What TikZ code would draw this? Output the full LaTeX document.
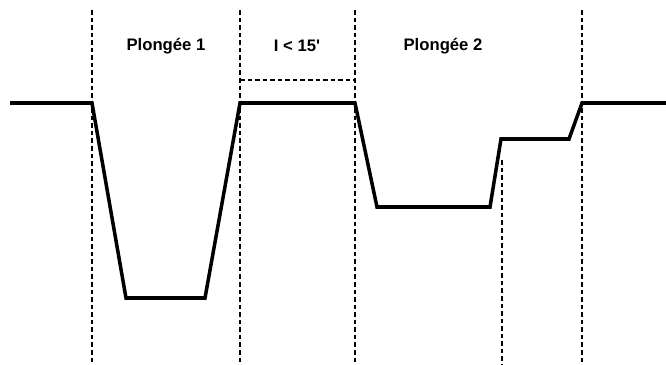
\documentclass[tikz,border=0pt]{standalone}
\usepackage{fontspec}
\newfontfamily\lblfont{Liberation Sans}
\usetikzlibrary{positioning}

\tikzset{
	profil/.style={line width=2pt, line join=miter},
	sep/.style={line width=0.75pt, dash pattern=on 2.6pt off 1.7pt},
	lbl/.style={font=\lblfont\fontsize{9.5}{11}\selectfont\bfseries}
}

\begin{document}
\begin{tikzpicture}[x=0.02cm, y=-0.02cm]
	\useasboundingbox (0,0) rectangle (666,365);

	\node[lbl] (p1) at (166,46) {Plongée 1};
	\node[lbl] (int) at (297,46) {I < 15'};
	\node[lbl] (p2) at (443,46) {Plongée 2};

	\coordinate (a) at (10,103);
	\coordinate (b) at (92,103);
	\coordinate (c) at (126,298);
	\coordinate (d) at (205,298);
	\coordinate (e) at (240,103);
	\coordinate (f) at (355,103);
	\coordinate (g) at (377,207);
	\coordinate (h) at (490,207);
	\coordinate (i) at (501,139);
	\coordinate (j) at (569,139);
	\coordinate (k) at (582,103);
	\coordinate (l) at (666,103);

	\draw[sep] (92,10) -- (92,365);
	\draw[sep] (240,10) -- (240,365);
	\draw[sep] (355,10) -- (355,365);
	\draw[sep] (502,160) -- (502,365);
	\draw[sep] (582,10) -- (582,365);
	\draw[sep] (240,80) -- (355,80);

	\draw[profil] (a) -- (b) -- (c) -- (d) -- (e) -- (f) -- (g) -- (h) -- (i) -- (j) -- (k) -- (l);
\end{tikzpicture}
\end{document}
